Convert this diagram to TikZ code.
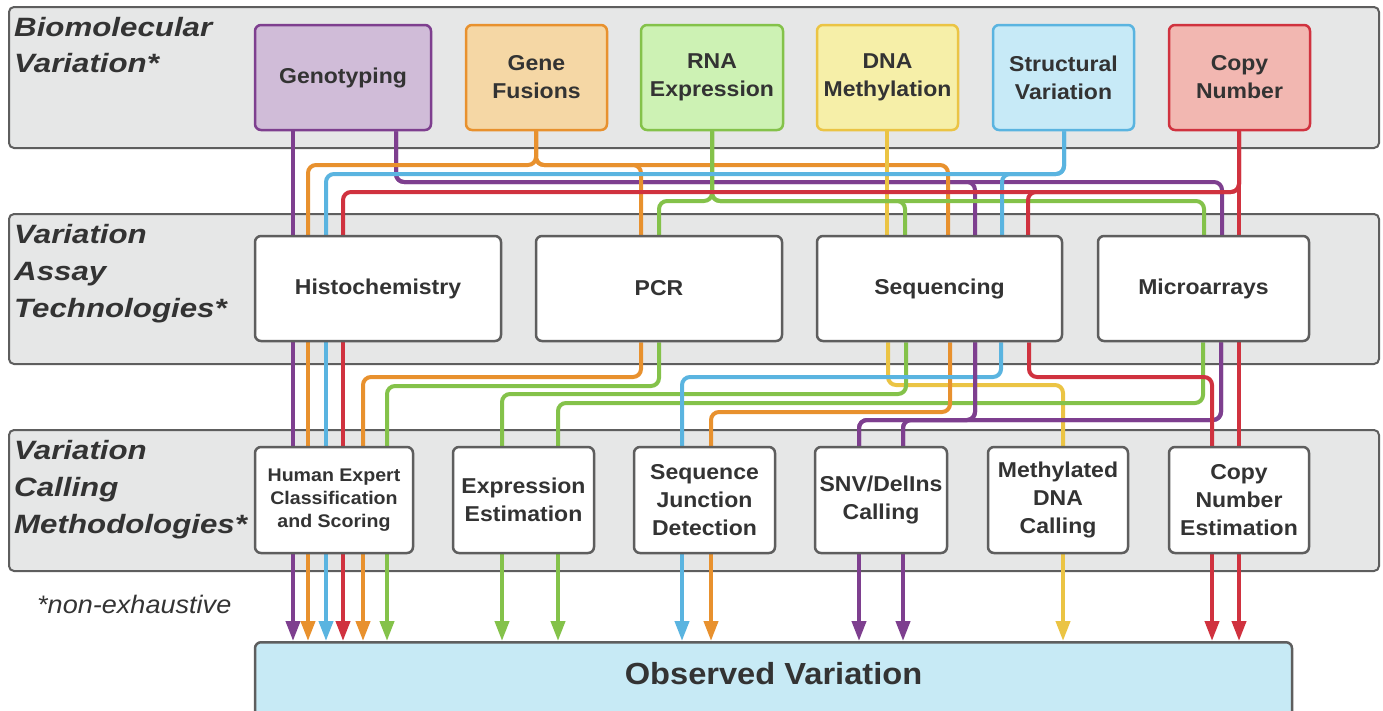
\documentclass[tikz,border=0pt]{standalone}
\usepackage{fontspec}
\setmainfont{Liberation Sans}[FakeStretch=1.07]
\newfontfamily\lblfont{Liberation Sans}[FakeStretch=1.18]
\usetikzlibrary{arrows.meta}
\definecolor{cP}{HTML}{7E3F8F}
\definecolor{cO}{HTML}{E8912E}
\definecolor{cG}{HTML}{84C24A}
\definecolor{cY}{HTML}{EBC444}
\definecolor{cB}{HTML}{5AB4E0}
\definecolor{cR}{HTML}{D0323F}
\definecolor{fP}{HTML}{D0BCD8}
\definecolor{fO}{HTML}{F5D7A5}
\definecolor{fG}{HTML}{CDF2B4}
\definecolor{fY}{HTML}{F6EFA8}
\definecolor{fB}{HTML}{C7EAF7}
\definecolor{fR}{HTML}{F2B7B1}
\definecolor{bandfill}{HTML}{E6E7E7}
\definecolor{edge}{HTML}{5E5E5E}
\definecolor{txt}{HTML}{333333}
\definecolor{obsfill}{HTML}{C7EAF5}
\pgfdeclarelayer{bands}
\pgfdeclarelayer{conn}
\pgfsetlayers{bands,conn,main}
\begin{document}
\begin{tikzpicture}[x=1pt,y=-1pt,
  band/.style={draw=edge, fill=bandfill, line width=2pt, rounded corners=5pt},
  box/.style={draw, line width=2.5pt, rounded corners=6pt, align=center, text=txt,
    font=\fontsize{21.5}{28}\selectfont\bfseries, inner sep=0pt},
  topbox/.style={box, minimum height=105pt},
  wbox/.style={box, draw=edge, fill=white},
  lbl/.style={anchor=base west, inner sep=0pt, text=txt,
    font=\lblfont\fontsize{26.5}{30}\selectfont\bfseries\itshape},
  ln/.style={line width=4pt, rounded corners=8pt},
  arr/.style={line width=4pt, -{Triangle[width=14pt,length=20pt]}}]
\useasboundingbox (0,0) rectangle (1383,710);

% bands
\begin{pgfonlayer}{bands}
\draw[band] (9,7) rectangle (1379,148);
\draw[band] (9,214) rectangle (1379,364);
\draw[band] (9,430) rectangle (1379,571);
\end{pgfonlayer}

% row labels
\node[lbl] (l1a) at (14,36) {Biomolecular};
\node[lbl] (l1b) at (14,72) {Variation*};
\node[lbl] (l2a) at (14,243) {Variation};
\node[lbl] (l2b) at (14,280) {Assay};
\node[lbl] (l2c) at (14,317) {Technologies*};
\node[lbl] (l3a) at (14,459) {Variation};
\node[lbl] (l3b) at (14,496) {Calling};
\node[lbl] (l3c) at (14,533) {Methodologies*};
\node[anchor=base west, inner sep=0pt, text=txt, font=\fontsize{25.3}{30}\selectfont\itshape]
  (note) at (37,613) {*non-exhaustive};

% top row
\node[topbox, draw=cP, fill=fP, minimum width=176pt] (geno) at (343,77.5) {Genotyping};
\node[topbox, draw=cO, fill=fO, minimum width=141pt] (fus) at (536.5,77.5) {Gene\\Fusions};
\node[topbox, draw=cG, fill=fG, minimum width=142pt] (rna) at (712,77.5) {RNA\\Expression};
\node[topbox, draw=cY, fill=fY, minimum width=141pt] (dna) at (887.5,77.5) {DNA\\Methylation};
\node[topbox, draw=cB, fill=fB, minimum width=141pt] (sv) at (1063.5,77.5) {Structural\\Variation};
\node[topbox, draw=cR, fill=fR, minimum width=141pt] (cn) at (1239.5,77.5) {Copy\\Number};

% assay row
\node[wbox, minimum height=105pt, minimum width=246pt] (histo) at (378,288.5) {Histochemistry};
\node[wbox, minimum height=105pt, minimum width=246pt] (pcr) at (659,288.5) {PCR};
\node[wbox, minimum height=105pt, minimum width=245pt] (seq) at (939.5,288.5) {Sequencing};
\node[wbox, minimum height=105pt, minimum width=211pt] (micro) at (1203.5,288.5) {Microarrays};

% calling row
\node[wbox, minimum height=106pt, minimum width=158pt, font=\fontsize{18.3}{23}\selectfont\bfseries]
  (human) at (334,500) {Human Expert\\Classification\\and Scoring};
\node[wbox, minimum height=106pt, minimum width=141pt] (expr) at (523.5,500) {Expression\\Estimation};
\node[wbox, minimum height=106pt, minimum width=141pt] (sjd) at (704.5,500) {Sequence\\Junction\\Detection};
\node[wbox, minimum height=106pt, minimum width=132pt] (snv) at (881,500) {SNV/DelIns\\Calling};
\node[wbox, minimum height=106pt, minimum width=140pt] (meth) at (1058,500) {Methylated\\DNA\\Calling};
\node[wbox, minimum height=106pt, minimum width=140pt] (cne) at (1239,500) {Copy\\Number\\Estimation};

% observed
\node[box, draw=edge, fill=obsfill, anchor=north, minimum width=1037pt,
  text height=42pt, text depth=37pt, font=\fontsize{30.5}{34}\selectfont\bfseries]
  (obs) at (773.5,641) {Observed Variation};

\begin{pgfonlayer}{conn}
% ---- biomolecular variation -> assay technologies
\draw[ln,cP] (293,0 |- geno.south) -- (293,0 |- histo.north);
\draw[ln,cP] (396,0 |- geno.south) |- (975,182) -- (975,0 |- seq.north);
\draw[ln,cP] (396,0 |- geno.south) |- (1222,182) -- (1222,0 |- micro.north);
\draw[ln,cO] (536,0 |- fus.south) |- (308,165) -- (308,0 |- histo.north);
\draw[ln,cO] (536,0 |- fus.south) |- (641,165) -- (641,0 |- pcr.north);
\draw[ln,cO] (536,0 |- fus.south) |- (948,165) -- (948,0 |- seq.north);
\draw[ln,cY] (887,0 |- dna.south) -- (887,0 |- seq.north);
\draw[ln,cG] (712,0 |- rna.south) |- (659,201) -- (659,0 |- pcr.north);
\draw[ln,cG] (712,0 |- rna.south) |- (905,201) -- (905,0 |- seq.north);
\draw[ln,cG] (712,0 |- rna.south) |- (1204,201) -- (1204,0 |- micro.north);
\draw[ln,cB] (1064,0 |- sv.south) |- (326,174) -- (326,0 |- histo.north);
\draw[ln,cB] (1064,0 |- sv.south) |- (1002,174) -- (1002,0 |- seq.north);
\draw[ln,cR] (1239,0 |- cn.south) -- (1239,0 |- micro.north);
\draw[ln,cR] (1239,0 |- cn.south) |- (343,192) -- (343,0 |- histo.north);
\draw[ln,cR] (1239,0 |- cn.south) |- (1028,192) -- (1028,0 |- seq.north);

% ---- assay technologies -> calling methodologies
\draw[ln,cP] (293,0 |- histo.south) -- (293,0 |- human.north);
\draw[ln,cO] (308,0 |- histo.south) -- (308,0 |- human.north);
\draw[ln,cB] (326,0 |- histo.south) -- (326,0 |- human.north);
\draw[ln,cR] (343,0 |- histo.south) -- (343,0 |- human.north);
\draw[ln,cO] (641,0 |- pcr.south) |- (363,377) -- (363,0 |- human.north);
\draw[ln,cG] (659,0 |- pcr.south) |- (387,386) -- (387,0 |- human.north);
\draw[ln,cY] (888,0 |- seq.south) |- (1063,385) -- (1063,0 |- meth.north);
\draw[ln,cG] (906,0 |- seq.south) |- (502,394) -- (502,0 |- expr.north);
\draw[ln,cG] (1203,0 |- micro.south) |- (558,403) -- (558,0 |- expr.north);
\draw[ln,cO] (950,0 |- seq.south) |- (711,412) -- (711,0 |- sjd.north);
\draw[ln,cB] (1001,0 |- seq.south) |- (682,377) -- (682,0 |- sjd.north);
\draw[ln,cP] (975,0 |- seq.south) |- (859,420) -- (859,0 |- snv.north);
\draw[ln,cP] (975,0 |- seq.south) |- (903,420) -- (903,0 |- snv.north);
\draw[ln,cP] (1221,0 |- micro.south) |- (859,420) -- (859,0 |- snv.north);
\draw[ln,cP] (1221,0 |- micro.south) |- (903,420) -- (903,0 |- snv.north);
\draw[ln,cR] (1029,0 |- seq.south) |- (1212,377) -- (1212,0 |- cne.north);
\draw[ln,cR] (1239,0 |- micro.south) -- (1239,0 |- cne.north);

% ---- calling methodologies -> observed variation
\draw[arr,cP] (293,0 |- human.south) -- (293,0 |- obs.north);
\draw[arr,cO] (308,0 |- human.south) -- (308,0 |- obs.north);
\draw[arr,cB] (326,0 |- human.south) -- (326,0 |- obs.north);
\draw[arr,cR] (343,0 |- human.south) -- (343,0 |- obs.north);
\draw[arr,cO] (363,0 |- human.south) -- (363,0 |- obs.north);
\draw[arr,cG] (387,0 |- human.south) -- (387,0 |- obs.north);
\draw[arr,cG] (502,0 |- expr.south) -- (502,0 |- obs.north);
\draw[arr,cG] (558,0 |- expr.south) -- (558,0 |- obs.north);
\draw[arr,cB] (682,0 |- sjd.south) -- (682,0 |- obs.north);
\draw[arr,cO] (711,0 |- sjd.south) -- (711,0 |- obs.north);
\draw[arr,cP] (859,0 |- snv.south) -- (859,0 |- obs.north);
\draw[arr,cP] (903,0 |- snv.south) -- (903,0 |- obs.north);
\draw[arr,cY] (1063,0 |- meth.south) -- (1063,0 |- obs.north);
\draw[arr,cR] (1212,0 |- cne.south) -- (1212,0 |- obs.north);
\draw[arr,cR] (1239,0 |- cne.south) -- (1239,0 |- obs.north);
\end{pgfonlayer}
\end{tikzpicture}
\end{document}
